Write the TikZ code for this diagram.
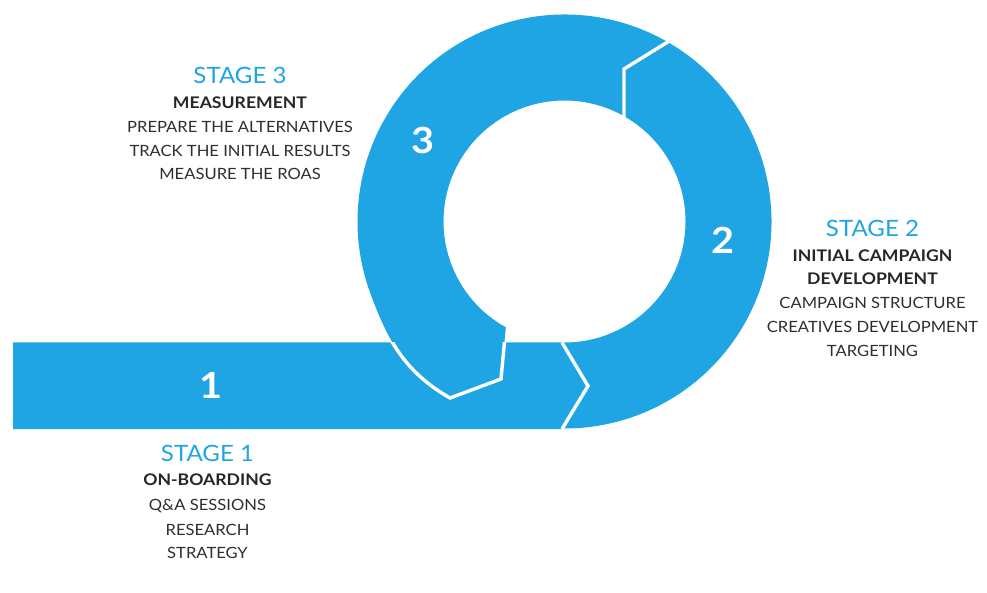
\documentclass[tikz,border=0pt]{standalone}
\usepackage{fontspec}
\setmainfont{Lato}[FakeStretch=1.07, BoldFeatures={FakeStretch=1.1}]
\definecolor{ringblue}{HTML}{1FA5E3}
\definecolor{darktext}{HTML}{262626}
\definecolor{bodytext}{HTML}{2E2E2E}
\begin{document}
\begin{tikzpicture}[x=1pt,y=1pt,
  title/.style={text=ringblue, font=\fontsize{22.5}{22.5}\selectfont, inner sep=0pt, anchor=base},
  head/.style={text=darktext, font=\bfseries\fontsize{16}{16}\selectfont, inner sep=0pt, anchor=base},
  item/.style={text=bodytext, font=\fontsize{15.5}{15.5}\selectfont, inner sep=0pt, anchor=base},
  num/.style={text=white, font=\bfseries\fontsize{36}{36}\selectfont, inner sep=0pt, anchor=base},
  sep/.style={draw=white, line width=3.4pt, line join=miter}]
\useasboundingbox (0,0) rectangle (987,592);
\coordinate (C) at (564.5,370.5);
% stage 1 bar
\fill[ringblue] (13,163) -- (562,163) -- (588,206) -- (562,249.5) -- (13,249.5) -- cycle;
% stage 2 segment
\fill[ringblue] (562,163.5) -- (588,206) -- (562,249.5) -- ([shift={(270:121)}]C)
  arc[start angle=270, end angle=420.6, radius=121] -- (624,523) -- ([shift={(59.4:207)}]C)
  arc[start angle=59.4, end angle=-90, radius=207] -- cycle;
% stage 3 segment
\fill[ringblue] ([shift={(59.4:207)}]C) arc[start angle=59.4, end angle=200, radius=207]
  to[out=290, in=150] (450,194) -- (501,213) -- ([shift={(241:121)}]C)
  arc[start angle=241, end angle=60.6, radius=121] -- (624,523) -- cycle;
% separators
\coordinate (c2a) at (562,163);
\coordinate (c2b) at (588,206);
\coordinate (c2c) at (562,249.5);
\draw[sep] (c2a) -- (c2b) -- (c2c);
\coordinate (t3a) at ([shift={(59.4:212)}]C);
\coordinate (t3b) at (624,523);
\coordinate (t3c) at (624,468);
\draw[sep] (t3a) -- (t3b) -- (t3c);
\begin{scope}
\clip (0,163) rectangle (600,249.5);
\draw[sep] ([shift={(200:207)}]C) to[out=290, in=150] (450,194) -- (501,213) -- ([shift={(241:121)}]C);
\end{scope}
% numbers
\node[num] (n1) at (210.5,193.7) {1};
\node[num] (n2) at (723,338.7) {2};
\node[num] (n3) at (423,438.7) {3};
% stage 3 text
\node[title] (s3) at (240,508.7) {STAGE 3};
\node[head] (h3) at (240,483.7) {MEASUREMENT};
\node[item] (i3a) at (240,459.7) {PREPARE THE ALTERNATIVES};
\node[item] (i3b) at (240,435.3) {TRACK THE INITIAL RESULTS};
\node[item] (i3c) at (240,412) {MEASURE THE ROAS};
% stage 2 text
\node[title] (s2) at (872.5,355.3) {STAGE 2};
\node[head] (h2a) at (872.5,330.3) {INITIAL CAMPAIGN};
\node[head] (h2b) at (872.5,307) {DEVELOPMENT};
\node[item] (i2a) at (872.5,283) {CAMPAIGN STRUCTURE};
\node[item] (i2b) at (872.5,259.3) {CREATIVES DEVELOPMENT};
\node[item] (i2c) at (872.5,235.3) {TARGETING};
% stage 1 text
\node[title] (s1) at (207.5,130.3) {STAGE 1};
\node[head] (h1) at (207.5,106.3) {ON-BOARDING};
\node[item] (i1a) at (207.5,81.5) {Q\&A SESSIONS};
\node[item] (i1b) at (207.5,57) {RESEARCH};
\node[item] (i1c) at (207.5,33.7) {STRATEGY};
\end{tikzpicture}
\end{document}
